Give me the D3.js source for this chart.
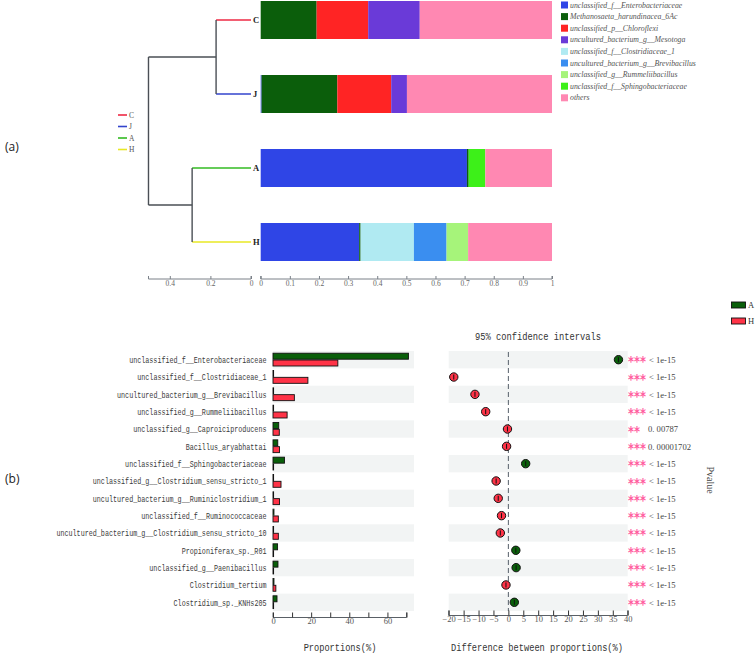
<!DOCTYPE html>
<html><head><meta charset="utf-8">
<script src="https://cdn.jsdelivr.net/npm/d3@7"></script>
<style>body{margin:0;background:#fff}svg{display:block}</style>
</head><body>
<svg id="c" width="756" height="654"></svg>
<script>
// ---------- DATA ----------
const samples = ["C","J","A","H"];
const sampleColors = ["#ee2a45","#3344cc","#33bb22","#e8e825"];
const taxa = ["unclassified_f__Enterobacteriaceae","Methanosaeta_harundinacea_6Ac","unclassified_p__Chloroflexi","uncultured_bacterium_g__Mesotoga","unclassified_f__Clostridiaceae_1","uncultured_bacterium_g__Brevibacillus","unclassified_g__Rummeliibacillus","unclassified_f__Sphingobacteriaceae","others"];
const taxaColors = ["#2f45e6","#0b5e0b","#ff2424","#6a3ad8","#b0eaf2","#3a8ef0","#a6f47a","#3df019","#ff88b2"];
// relative abundances per sample (order of taxa)
const abundC = [0.000,0.192,0.177,0.177,0,0,0,0,0.454];
const abundJ = [0.003,0.260,0.185,0.054,0,0,0,0,0.498];
const abundA = [0.708,0.006,0,0,0,0,0,0.057,0.229];
const abundH = [0.338,0.005,0,0,0.183,0.112,0.074,0,0.288];
const dendroHeights = {CJ:0.172, AH:0.29, root:0.505};
const dendroTicks = [0.4,0.2,0];
const barTicks = [0,0.1,0.2,0.3,0.4,0.5,0.6,0.7,0.8,0.9,1];

const features = ["unclassified_f__Enterobacteriaceae","unclassified_f__Clostridiaceae_1","uncultured_bacterium_g__Brevibacillus","unclassified_g__Rummeliibacillus","unclassified_g__Caproiciproducens","Bacillus_aryabhattai","unclassified_f__Sphingobacteriaceae","unclassified_g__Clostridium_sensu_stricto_1","uncultured_bacterium_g__Ruminiclostridium_1","unclassified_f__Ruminococcaceae","uncultured_bacterium_g__Clostridium_sensu_stricto_10","Propioniferax_sp._R01","unclassified_g__Paenibacillus","Clostridium_tertium","Clostridium_sp._KNHs205"];
const propA = [71,0.2,0.2,0.2,3.0,2.5,6.0,0.3,0.3,0.5,0.3,2.4,2.6,0.5,2.1];
const propH = [34,18.3,11.2,7.4,3.3,3.4,0.1,4.2,3.4,2.8,2.8,0.1,0.1,1.5,0.1];
const diffs = [36.9,-18.3,-11.2,-7.6,-0.3,-0.6,5.8,-4.1,-3.4,-2.3,-2.7,2.5,2.6,-0.8,2.0];
const stars = ["***","***","***","***","**","***","***","***","***","***","***","***","***","***","***"];
const pvals = ["< 1e-15","< 1e-15","< 1e-15","< 1e-15","0. 00787","0. 00001702","< 1e-15","< 1e-15","< 1e-15","< 1e-15","< 1e-15","< 1e-15","< 1e-15","< 1e-15","< 1e-15"];
const propTicks = [0,10,20,30,40,50,60,70];
const diffTicks = [-20,-15,-10,-5,0,5,10,15,20,25,30,35,40];
const groups = ["A","H"];
const groupColors = ["#0a5f0a","#ff3347"];

// ---------- DRAW ----------
const svg = d3.select("#c");
const serif = "'Liberation Serif','Times New Roman',serif";
const mono = "'Liberation Mono','DejaVu Sans Mono',monospace";

// panel labels
svg.append("text").attr("x",5).attr("y",151).attr("font-family","'Open Sans',Arial,sans-serif").attr("font-size",12).attr("fill","#222").text("(a)");
svg.append("text").attr("x",5).attr("y",483).attr("font-family","'Open Sans',Arial,sans-serif").attr("font-size",12).attr("fill","#222").text("(b)");

// --- dendrogram ---
const dx = d3.scaleLinear().domain([0.5,0]).range([149.5,251]);
const yS = d3.scalePoint().domain(samples).range([20,242]);
const dg = svg.append("g");
const dark = "#4a4f55";
const cjY = (yS("C")+yS("J"))/2, ahY = (yS("A")+yS("H"))/2;
samples.forEach((s,i)=>{
  const h = (s==="C"||s==="J")?dendroHeights.CJ:dendroHeights.AH;
  dg.append("line").attr("x1",dx(h)).attr("x2",dx(0)).attr("y1",yS(s)).attr("y2",yS(s)).attr("stroke",sampleColors[i]).attr("stroke-width",1.4);
  dg.append("text").attr("x",dx(0)+2).attr("y",yS(s)+3).attr("font-family",serif).attr("font-weight","bold").attr("font-size",8.5).attr("fill","#222").text(s);
});
dg.append("line").attr("x1",dx(dendroHeights.CJ)).attr("x2",dx(dendroHeights.CJ)).attr("y1",yS("C")).attr("y2",yS("J")).attr("stroke",dark).attr("stroke-width",1.4);
dg.append("line").attr("x1",dx(dendroHeights.AH)).attr("x2",dx(dendroHeights.AH)).attr("y1",yS("A")).attr("y2",yS("H")).attr("stroke",dark).attr("stroke-width",1.4);
dg.append("line").attr("x1",dx(dendroHeights.root)).attr("x2",dx(dendroHeights.CJ)).attr("y1",cjY).attr("y2",cjY).attr("stroke",dark).attr("stroke-width",1.4);
dg.append("line").attr("x1",dx(dendroHeights.root)).attr("x2",dx(dendroHeights.AH)).attr("y1",ahY).attr("y2",ahY).attr("stroke",dark).attr("stroke-width",1.4);
dg.append("line").attr("x1",dx(dendroHeights.root)).attr("x2",dx(dendroHeights.root)).attr("y1",cjY).attr("y2",ahY).attr("stroke",dark).attr("stroke-width",1.4);
samples.forEach((s,i)=>{
  const y = 115 + i*11.5;
  dg.append("line").attr("x1",118).attr("x2",127).attr("y1",y).attr("y2",y).attr("stroke",sampleColors[i]).attr("stroke-width",1.6);
  dg.append("text").attr("x",129).attr("y",y+2.5).attr("font-family",serif).attr("font-size",7.5).attr("fill","#555").text(s);
});
const dAxis = d3.axisBottom(dx).tickValues(dendroTicks).tickSize(-3).tickFormat(d=>d===0?"0":d3.format(".1f")(d));
const dag = svg.append("g").attr("transform","translate(0,279)").call(dAxis);
dag.select(".domain").attr("d",`M${dx(dendroHeights.root)},-3V0H${dx(0)}V-3`).attr("stroke","#7a8088");
dag.selectAll(".tick line").attr("stroke","#7a8088");
dag.selectAll("text").attr("font-family",serif).attr("font-size",7.5).attr("fill","#666").attr("dy","0.5em");

// --- stacked bars ---
const bx = d3.scaleLinear().domain([0,1]).range([260.7,552]);
const abund = {C:abundC,J:abundJ,A:abundA,H:abundH};
const bg = svg.append("g");
samples.forEach(s=>{
  let cum = 0;
  abund[s].forEach((v,k)=>{
    if(v<=0) return;
    bg.append("rect").attr("x",bx(cum)).attr("width",bx(cum+v)-bx(cum)).attr("y",yS(s)-19).attr("height",38).attr("fill",taxaColors[k]);
    cum += v;
  });
});
const bAxis = d3.axisBottom(bx).tickValues(barTicks).tickSize(-3).tickFormat(d=>d===0||d===1?String(d):d3.format(".1f")(d));
const bag = svg.append("g").attr("transform","translate(0,279)").call(bAxis);
bag.select(".domain").attr("d",`M${bx(0)},-3V0H${bx(1)}V-3`).attr("stroke","#7a8088");
bag.selectAll(".tick line").attr("stroke","#7a8088");
bag.selectAll("text").attr("font-family",serif).attr("font-size",7.5).attr("fill","#666").attr("dy","0.5em");
taxa.forEach((t,k)=>{
  const y = 5 + k*11.6;
  bg.append("rect").attr("x",561).attr("y",y-3.5).attr("width",7).attr("height",7).attr("fill",taxaColors[k]);
  bg.append("text").attr("x",570).attr("y",y+2.5).attr("font-family",serif).attr("font-style","italic").attr("font-size",7.8).attr("fill","#555").text(t);
});

// --- bottom: extended error bar ---
const rowY = d3.scalePoint().domain(features.map((f,i)=>i)).range([359.7,602.3]);
const rowH = 17.33;
const px = d3.scaleLinear().domain([0,70]).range([273,406.5]);
const cx = d3.scaleLinear().domain([-20,40]).range([448.7,627.7]);
const eg = svg.append("g");
features.forEach((f,i)=>{
  if(i%2===0){
    eg.append("rect").attr("x",px(0)).attr("y",rowY(i)-rowH/2).attr("width",414-px(0)).attr("height",rowH).attr("fill","#f2f4f4");
    eg.append("rect").attr("x",cx(-20)).attr("y",rowY(i)-rowH/2).attr("width",cx(40)-cx(-20)).attr("height",rowH).attr("fill","#f2f4f4");
  }
});
features.forEach((f,i)=>{
  eg.append("text").attr("x",266.5).attr("y",rowY(i)+3.2).attr("text-anchor","end")
    .attr("font-family",mono).attr("font-size",9.2).attr("fill","#3a3a3a")
    .attr("textLength",f.length*4.04).attr("lengthAdjust","spacingAndGlyphs").text(f);
});
features.forEach((f,i)=>{
  [propA[i],propH[i]].forEach((v,g)=>{
    const y0 = g===0 ? rowY(i)-6.5 : rowY(i)+0.3;
    eg.append("rect").attr("x",px(0)).attr("y",y0).attr("width",Math.max(px(v)-px(0),0.6)).attr("height",6)
      .attr("fill",groupColors[g]).attr("stroke","#111").attr("stroke-width",0.9);
  });
});
const pAxis = d3.axisBottom(px).tickValues(propTicks).tickSize(-5).tickFormat(d=>d%20===0?d:"");
const pag = svg.append("g").attr("transform","translate(0,617.5)").call(pAxis);
pag.select(".domain").attr("d",`M${px(0)},-5V0H${px(70)}V-5`).attr("stroke","#5a6066");
pag.selectAll(".tick line").attr("stroke","#333").attr("stroke-width",1);
pag.selectAll("text").attr("font-family",serif).attr("font-size",8.5).attr("fill","#555").attr("dy","0.45em");
svg.append("text").attr("x",340).attr("y",651).attr("text-anchor","middle").attr("font-family",mono).attr("font-size",11).attr("fill","#333")
  .attr("textLength",72.7).attr("lengthAdjust","spacingAndGlyphs").text("Proportions(%)");

eg.append("line").attr("x1",cx(0)).attr("x2",cx(0)).attr("y1",352).attr("y2",611).attr("stroke","#56606a").attr("stroke-width",1).attr("stroke-dasharray","5,3");
features.forEach((f,i)=>{
  const col = diffs[i]>=0?groupColors[0]:groupColors[1];
  eg.append("circle").attr("cx",cx(diffs[i])).attr("cy",rowY(i)).attr("r",4.2).attr("fill",col).attr("stroke","#111").attr("stroke-width",1);
  eg.append("line").attr("x1",cx(diffs[i])).attr("x2",cx(diffs[i])).attr("y1",rowY(i)-2.5).attr("y2",rowY(i)+2.5).attr("stroke","#111").attr("stroke-width",1);
  eg.append("text").attr("x",628).attr("y",rowY(i)+6.5).attr("font-family","'DejaVu Sans',sans-serif").attr("font-weight","bold").attr("font-size",14).attr("fill","#ff5c9e")
    .attr("textLength",stars[i].length*6).attr("lengthAdjust","spacingAndGlyphs").text(stars[i]);
  eg.append("text").attr("x",pvals[i][0]==="<"?649:648).attr("y",rowY(i)+3.2).attr("font-family",serif).attr("font-size",8.6).attr("fill","#444").text(pvals[i]);
});
const cAxis = d3.axisBottom(cx).tickValues(diffTicks).tickSize(-5);
const cag = svg.append("g").attr("transform","translate(0,615.5)").call(cAxis);
cag.select(".domain").attr("d",`M${cx(-20)},-5V0H${cx(40)}V-5`).attr("stroke","#5a6066");
cag.selectAll(".tick line").attr("stroke","#333");
cag.selectAll("text").attr("font-family",serif).attr("font-size",8.5).attr("fill","#555").attr("dy","0.45em");
svg.append("text").attr("x",537).attr("y",651).attr("text-anchor","middle").attr("font-family",mono).attr("font-size",11).attr("fill","#333")
  .attr("textLength",172).attr("lengthAdjust","spacingAndGlyphs").text("Difference between proportions(%)");
svg.append("text").attr("x",538).attr("y",339.5).attr("text-anchor","middle").attr("font-family",mono).attr("font-size",11).attr("fill","#333")
  .attr("textLength",126).attr("lengthAdjust","spacingAndGlyphs").text("95% confidence intervals");
svg.append("text").attr("transform","translate(707,480) rotate(90)").attr("text-anchor","middle").attr("font-family",serif).attr("font-size",10).attr("fill","#444").text("Pvalue");

groups.forEach((g,i)=>{
  const y = 305 + i*16;
  svg.append("rect").attr("x",731.5).attr("y",y-3).attr("width",14).attr("height",6).attr("fill",groupColors[i]).attr("stroke","#111").attr("stroke-width",0.9);
  svg.append("text").attr("x",748).attr("y",y+3).attr("font-family",serif).attr("font-size",8.5).attr("fill","#333").text(g);
});
</script>
</body></html>
